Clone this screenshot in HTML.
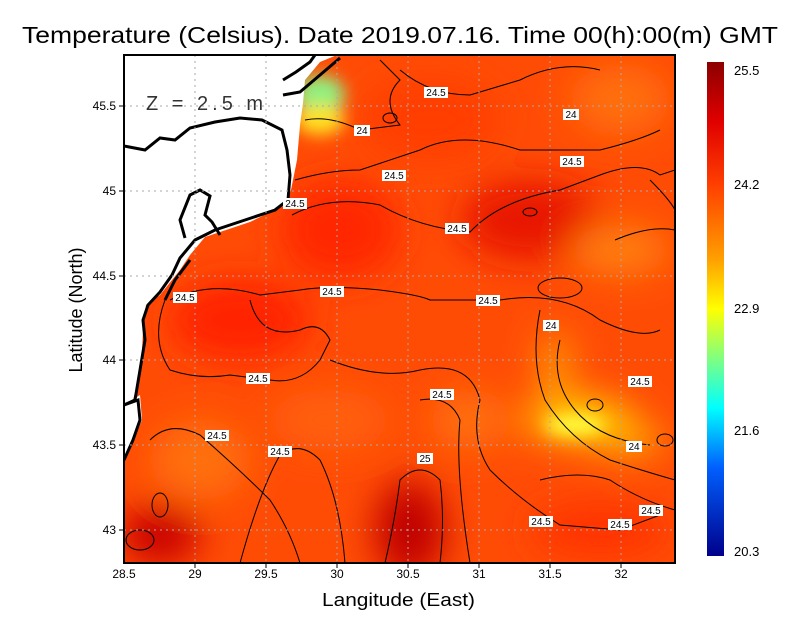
<!DOCTYPE html>
<html><head><style>
body{margin:0;background:#fff;}
svg text{font-family:"Liberation Sans",sans-serif;}
</style></head><body>
<svg width="800" height="618" xmlns="http://www.w3.org/2000/svg">
<defs>
<filter id="b" x="-50%" y="-50%" width="200%" height="200%"><feGaussianBlur stdDeviation="18"/></filter>
<filter id="b2" x="-50%" y="-50%" width="200%" height="200%"><feGaussianBlur stdDeviation="8"/></filter>
<clipPath id="c"><rect x="124" y="55" width="551" height="508"/></clipPath>
<linearGradient id="cb" x1="0" y1="0" x2="0" y2="1">
<stop offset="0" stop-color="#8b0000"/><stop offset="0.12" stop-color="#e00000"/><stop offset="0.25" stop-color="#ff4000"/><stop offset="0.4" stop-color="#ffa000"/><stop offset="0.5" stop-color="#ffff00"/><stop offset="0.6" stop-color="#80ff80"/><stop offset="0.7" stop-color="#00ffff"/><stop offset="0.82" stop-color="#0060ff"/><stop offset="1" stop-color="#00008b"/>
</linearGradient>
</defs>
<text x="22" y="43" font-size="23" textLength="756" lengthAdjust="spacingAndGlyphs">Temperature (Celsius). Date 2019.07.16. Time 00(h):00(m)  GMT</text>
<g clip-path="url(#c)">
<rect x="124" y="55" width="551" height="508" fill="#ff4c05"/>
<g filter="url(#b)">
<ellipse cx="240" cy="320" rx="70" ry="40" fill="#ff2000"/>
<ellipse cx="340" cy="230" rx="60" ry="50" fill="#ff2800"/>
<ellipse cx="530" cy="220" rx="70" ry="40" fill="#e81800"/>
<ellipse cx="430" cy="120" rx="70" ry="40" fill="#ff3c00"/>
<ellipse cx="620" cy="100" rx="50" ry="35" fill="#ff7010"/>
<ellipse cx="620" cy="250" rx="50" ry="25" fill="#ff8010"/>
<ellipse cx="200" cy="460" rx="50" ry="40" fill="#ff7010"/>
<ellipse cx="330" cy="420" rx="60" ry="30" fill="#ff6010"/>
<ellipse cx="470" cy="420" rx="40" ry="30" fill="#ff7010"/>
<ellipse cx="410" cy="530" rx="35" ry="50" fill="#c00000"/>
<ellipse cx="160" cy="535" rx="40" ry="30" fill="#c80000"/>
<ellipse cx="600" cy="530" rx="70" ry="25" fill="#ff3000"/>
<ellipse cx="580" cy="420" rx="55" ry="22" fill="#ffd000"/>
<ellipse cx="625" cy="440" rx="40" ry="15" fill="#ffb000"/>
<ellipse cx="555" cy="370" rx="15" ry="40" fill="#ffa000"/>
</g>
<g filter="url(#b2)">
<ellipse cx="320" cy="95" rx="25" ry="20" fill="#90f080"/>
<ellipse cx="320" cy="120" rx="25" ry="15" fill="#ffe020"/>
<ellipse cx="575" cy="425" rx="30" ry="10" fill="#ffff40"/>
</g>
<rect x="283" y="78" width="18" height="20" fill="#70f090"/>
<path d="M124,55 L337,55 L320,62 L305,80 L303,103 L300,125 L297,160 L291,190 L285,205 L250,222 L205,237 L190,255 L180,270 L160,295 L146,305 L143,330 L141,370 L133,400 L124,405 Z" fill="#fff"/>
<path d="M124,405 L140,395 L142,420 L124,462 Z" fill="#fff"/>
<g fill="none" stroke="#000" stroke-width="3">
<path d="M124,146 L145,150 L160,138 L175,140 L190,128 L215,122 L240,118 L262,120 L282,130 L287,150 L290,175 L288,200 L275,210 L245,220 L215,230 L195,240 L180,258 L172,275 L160,292 L148,305 L143,320 L145,340 L140,370 L135,400 L124,405"/>
<path d="M283,80 L296,72 L310,62 L315,55"/>
<path d="M283,95 L300,92 L320,75 L340,58"/>
<path d="M185,238 L180,220 L190,195 L200,190 L210,196 L205,215 L212,222 L220,235"/>
<path d="M190,260 L175,280 L165,300"/>
<path d="M124,405 L138,400 L140,420 L133,440 L124,460"/>
</g>
<g fill="none" stroke="#000" stroke-width="1">
<path d="M305,120 Q330,115 360,130 L400,125 Q380,100 400,80 L380,60"/>
<path d="M292,215 Q330,195 380,205 Q420,228 470,232 Q500,200 560,190 L600,175 Q640,160 660,175 L675,170"/>
<path d="M295,180 Q330,170 360,170 L420,150 Q460,130 520,150 L600,150 Q640,140 660,130"/>
<path d="M400,70 Q430,95 470,95 L520,80 Q560,60 600,70"/>
<path d="M170,300 Q210,280 260,295 L300,290 Q330,285 380,290 Q420,295 430,300 L500,300 Q560,290 600,320 Q640,340 660,330"/>
<path d="M165,300 Q150,340 170,370 Q200,380 230,375 L270,380 Q300,385 320,360 L330,340 Q320,320 300,330 Q260,340 250,300"/>
<path d="M330,360 Q380,380 420,370 Q470,360 480,400 Q470,440 490,470 Q520,500 560,525 L620,530 L660,515"/>
<path d="M420,400 Q450,395 460,420 Q455,470 470,563"/>
<path d="M385,563 Q395,520 400,480 Q420,460 440,480 Q445,520 440,563"/>
<path d="M150,440 Q170,420 200,435 Q240,470 270,500 Q290,530 300,563"/>
<path d="M240,563 Q260,490 280,455 Q300,440 320,460 Q340,500 345,563"/>
<path d="M540,310 Q530,360 545,400 Q570,440 610,460 Q640,470 675,480"/>
<path d="M560,340 Q550,380 575,410 Q600,440 650,445"/>
<path d="M540,480 Q580,470 610,480 Q640,500 675,510"/>
<path d="M650,180 Q670,200 675,210"/>
<path d="M615,240 Q650,225 675,230"/>
<ellipse cx="560" cy="288" rx="22" ry="10"/>
<ellipse cx="530" cy="212" rx="7" ry="4"/>
<ellipse cx="390" cy="118" rx="7" ry="5"/>
<ellipse cx="160" cy="505" rx="8" ry="12"/>
<ellipse cx="140" cy="540" rx="14" ry="10"/>
<ellipse cx="595" cy="405" rx="8" ry="6"/>
<ellipse cx="665" cy="440" rx="8" ry="6"/>
</g>
<g stroke="#aaa" stroke-width="1" stroke-dasharray="2,4">
<path d="M195,55V563M266,55V563M337,55V563M408,55V563M479,55V563M550,55V563M621,55V563"/>
<path d="M124,106H675M124,191H675M124,276H675M124,360H675M124,445H675M124,530H675"/>
</g>
<g font-size="10" text-anchor="middle">
<g fill="#fff">
<rect x="424" y="87" width="24" height="11"/><rect x="563" y="109" width="16" height="11"/><rect x="354" y="125" width="16" height="11"/>
<rect x="560" y="156" width="24" height="11"/><rect x="382" y="170" width="24" height="11"/><rect x="283" y="198" width="24" height="11"/>
<rect x="445" y="223" width="24" height="11"/><rect x="173" y="292" width="24" height="11"/><rect x="320" y="286" width="24" height="11"/>
<rect x="476" y="295" width="24" height="11"/><rect x="543" y="320" width="16" height="11"/><rect x="246" y="373" width="24" height="11"/>
<rect x="628" y="376" width="24" height="11"/><rect x="430" y="389" width="24" height="11"/><rect x="205" y="430" width="24" height="11"/>
<rect x="626" y="441" width="16" height="11"/><rect x="268" y="446" width="24" height="11"/><rect x="417" y="453" width="16" height="11"/>
<rect x="639" y="505" width="24" height="11"/><rect x="529" y="516" width="24" height="11"/><rect x="608" y="519" width="24" height="11"/>
</g>
<text x="436" y="96">24.5</text><text x="571" y="118">24</text><text x="362" y="134">24</text>
<text x="572" y="165">24.5</text><text x="394" y="179">24.5</text><text x="295" y="207">24.5</text>
<text x="457" y="232">24.5</text><text x="185" y="301">24.5</text><text x="332" y="295">24.5</text>
<text x="488" y="304">24.5</text><text x="551" y="329">24</text><text x="258" y="382">24.5</text>
<text x="640" y="385">24.5</text><text x="442" y="398">24.5</text><text x="217" y="439">24.5</text>
<text x="634" y="450">24</text><text x="280" y="455">24.5</text><text x="425" y="462">25</text>
<text x="651" y="514">24.5</text><text x="541" y="525">24.5</text><text x="620" y="528">24.5</text>
</g>
<text x="146" y="110" font-size="20" fill="#333" letter-spacing="4">Z = 2.5 m</text>
</g>
<rect x="124" y="55" width="551" height="508" fill="none" stroke="#000" stroke-width="2"/>
<g stroke="#000"><path d="M124,106h-5M124,191h-5M124,276h-5M124,360h-5M124,445h-5M124,530h-5M195,563v5M266,563v5M337,563v5M408,563v5M479,563v5M550,563v5M621,563v5"/></g>
<g font-size="12" text-anchor="end">
<text x="116" y="110">45.5</text><text x="116" y="195">45</text><text x="116" y="280">44.5</text><text x="116" y="364">44</text><text x="116" y="449">43.5</text><text x="116" y="534">43</text>
</g>
<g font-size="12" text-anchor="middle">
<text x="124" y="578">28.5</text><text x="195" y="578">29</text><text x="266" y="578">29.5</text><text x="337" y="578">30</text><text x="408" y="578">30.5</text><text x="479" y="578">31</text><text x="550" y="578">31.5</text><text x="621" y="578">32</text>
</g>
<text x="322" y="606" font-size="18" textLength="153" lengthAdjust="spacingAndGlyphs">Langitude (East)</text>
<text x="82" y="310" font-size="18" text-anchor="middle" transform="rotate(-90 82 310)">Latitude (North)</text>
<rect x="707" y="62" width="17" height="494" fill="url(#cb)"/>
<g font-size="13">
<text x="734" y="75">25.5</text><text x="734" y="189">24.2</text><text x="734" y="313">22.9</text><text x="734" y="435">21.6</text><text x="734" y="556">20.3</text>
</g>
</svg>
</body></html>
